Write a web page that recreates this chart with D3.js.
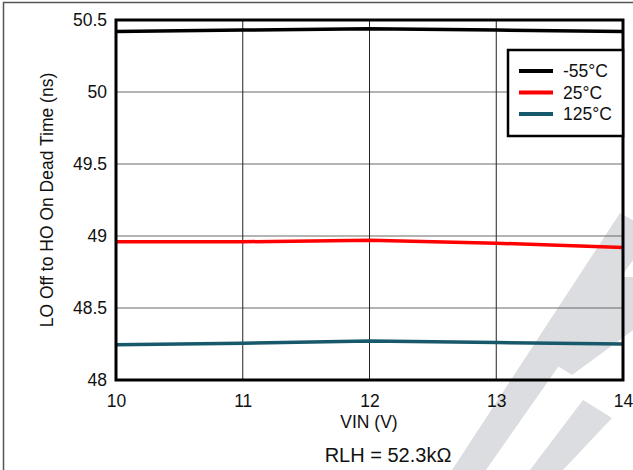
<!DOCTYPE html>
<html>
<head>
<meta charset="utf-8">
<script src="https://cdn.jsdelivr.net/npm/d3@7"></script>
<style>
  body { margin: 0; background: #fff; }
  text { font-family: "Liberation Sans", Arial, sans-serif; fill: #111; }
</style>
</head>
<body>
<div id="chart"></div>
<script>
// Data
const vin = [10, 11, 12, 13, 14];
const seriesNames = ['-55°C', '25°C', '125°C'];
const seriesColors = ['#000000', '#ff0000', '#17596a'];
const deadTimeM55 = [50.42, 50.43, 50.44, 50.43, 50.42];
const deadTime25 = [48.96, 48.96, 48.97, 48.95, 48.92];
const deadTime125 = [48.245, 48.255, 48.27, 48.26, 48.25];
const xTicks = [10, 11, 12, 13, 14];
const yTicks = [48, 48.5, 49, 49.5, 50, 50.5];

// Light watermark shapes (decorative, behind the plot)
const watermark = [
  [[452, 470], [620, 213], [640, 224], [640, 250], [486, 470]],
  [[553, 363], [615, 277], [640, 277], [640, 325], [572, 375]],
  [[530, 470], [583, 400], [612, 418], [563, 470]]
];

const W = 633, H = 470;
const margin = {top: 20, right: 10, bottom: 90, left: 116};
const width = 623 - margin.left;
const height = 380 - margin.top;

const svg = d3.select('#chart').append('svg')
  .attr('width', W)
  .attr('height', H);

// Watermark
svg.append('g').selectAll('polygon')
  .data(watermark)
  .join('polygon')
  .attr('points', d => d.map(p => p.join(',')).join(' '))
  .attr('fill', '#dcdde0');

// Outer frame (left and top edges of the figure)
svg.append('path')
  .attr('d', `M3.5,${H} L3.5,2.5 L${W},2.5`)
  .attr('fill', 'none')
  .attr('stroke', '#555')
  .attr('stroke-width', 1.5);

const g = svg.append('g')
  .attr('transform', `translate(${margin.left},${margin.top})`);

const x = d3.scaleLinear().domain([10, 14]).range([0, width]);
const y = d3.scaleLinear().domain([48, 50.5]).range([height, 0]);

// Grid lines
g.append('g').selectAll('line')
  .data(yTicks)
  .join('line')
  .attr('x1', 0).attr('x2', width)
  .attr('y1', d => y(d)).attr('y2', d => y(d))
  .attr('stroke', '#6a6a6a')
  .attr('stroke-width', 1.2);

g.append('g').selectAll('line')
  .data(xTicks)
  .join('line')
  .attr('y1', 0).attr('y2', height)
  .attr('x1', d => x(d)).attr('x2', d => x(d))
  .attr('stroke', '#222')
  .attr('stroke-width', 1);

// Axes (labels only)
const xAxis = g.append('g')
  .attr('transform', `translate(0,${height})`)
  .call(d3.axisBottom(x).tickValues(xTicks).tickFormat(d3.format('d')).tickSize(0).tickPadding(15));
const yAxis = g.append('g')
  .call(d3.axisLeft(y).tickValues(yTicks).tickFormat(d => String(d)).tickSize(0).tickPadding(9));
[xAxis, yAxis].forEach(a => {
  a.select('.domain').remove();
  a.selectAll('text')
    .style('font-family', '"Liberation Sans", Arial, sans-serif')
    .style('font-size', '17.5px')
    .attr('fill', '#111');
});

// Series lines
const series = [deadTimeM55, deadTime25, deadTime125];
const line = d3.line()
  .x((d, i) => x(vin[i]))
  .y(d => y(d));

g.append('g').selectAll('path')
  .data(series)
  .join('path')
  .attr('d', line)
  .attr('fill', 'none')
  .attr('stroke', (d, i) => seriesColors[i])
  .attr('stroke-width', 3.5);

// Plot frame
g.append('rect')
  .attr('x', 0).attr('y', 0)
  .attr('width', width).attr('height', height)
  .attr('fill', 'none')
  .attr('stroke', '#000')
  .attr('stroke-width', 3);

// Legend
const legend = g.append('g')
  .attr('transform', `translate(${508 - margin.left},${50 - margin.top})`);
legend.append('rect')
  .attr('width', 623 - 508).attr('height', 86)
  .attr('fill', '#fff')
  .attr('stroke', '#000')
  .attr('stroke-width', 2.5);
const items = legend.selectAll('g.item')
  .data(seriesNames)
  .join('g')
  .attr('class', 'item')
  .attr('transform', (d, i) => `translate(0,${21 + i * 21.5})`);
items.append('line')
  .attr('x1', 11).attr('x2', 45)
  .attr('stroke', (d, i) => seriesColors[i])
  .attr('stroke-width', 4);
items.append('text')
  .attr('x', 55).attr('y', 6)
  .style('font-size', '17.5px')
  .text(d => d);

// Axis titles
svg.append('text')
  .attr('x', 369).attr('y', 428)
  .attr('text-anchor', 'middle')
  .style('font-size', '17.5px')
  .text('VIN (V)');

svg.append('text')
  .attr('transform', 'translate(53,200) rotate(-90)')
  .attr('text-anchor', 'middle')
  .style('font-size', '17.5px')
  .text('LO Off to HO On Dead Time (ns)');

svg.append('text')
  .attr('x', 388).attr('y', 462)
  .attr('text-anchor', 'middle')
  .style('font-size', '20px')
  .text('RLH = 52.3kΩ');
</script>
</body>
</html>
